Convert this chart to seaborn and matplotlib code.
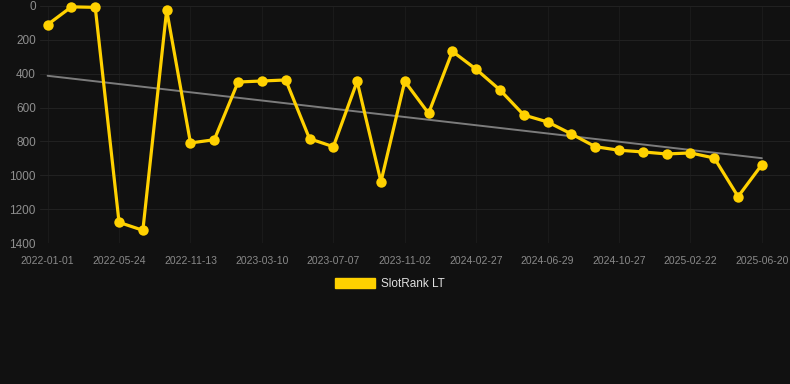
import numpy as np
import pandas as pd
import seaborn as sns
import matplotlib
matplotlib.use("Agg")
import matplotlib.pyplot as plt
from matplotlib.patches import Patch

# ---- data ----
tick_labels = ["2022-01-01", "2022-05-24", "2022-11-13", "2023-03-10", "2023-07-07",
               "2023-11-02", "2024-02-27", "2024-06-29", "2024-10-27", "2025-02-22",
               "2025-06-20"]
rank_values = [110, 5, 8, 1278, 1325, 24, 809, 790, 449, 443,
               437, 784, 831, 445, 1038, 445, 634, 268, 374, 496,
               644, 685, 756, 831, 852, 862, 874, 868, 898, 1126, 937]
series_name = "SlotRank LT"

point_index = list(range(len(rank_values)))
df = pd.DataFrame({"idx": point_index, "rank": rank_values})

BG = "#111111"
YELLOW = "#FFD100"

sns.set_theme(style="dark")
plt.rcParams["font.family"] = ["Liberation Sans", "DejaVu Sans"]

fig = plt.figure(figsize=(7.9, 3.84), dpi=100, facecolor=BG)
ax = fig.add_axes([40 / 790, 1 - 243 / 384, 750 / 790, 237 / 384])
ax.set_facecolor(BG)

# trend line (linear fit)
sns.regplot(data=df, x="idx", y="rank", scatter=False, ci=None, ax=ax,
            line_kws=dict(color="#7c7c7c", lw=1.4, zorder=2))

sns.lineplot(data=df, x="idx", y="rank", ax=ax, color=YELLOW, lw=2.3,
             marker="o", markersize=7.5, markeredgewidth=0, zorder=3)
for ln in ax.lines:
    ln.set_clip_on(False)

ax.set_xlim(-0.32, 31.18)
ax.set_ylim(1400, 0)
ax.set_yticks([0, 200, 400, 600, 800, 1000, 1200, 1400])
ax.set_xticks(point_index[::3])
ax.set_xticklabels(tick_labels)
ax.set_xlabel("")
ax.set_ylabel("")

ax.yaxis.grid(True, color="#212121", lw=0.8)
ax.xaxis.grid(True, color="#1a1a1a", lw=0.8)
ax.set_axisbelow(True)
for s in ax.spines.values():
    s.set_visible(False)

ax.tick_params(axis="y", length=0, pad=3, labelsize=8.5, labelcolor="#8f8f8f")
ax.tick_params(axis="x", length=0, pad=9, labelsize=7.5, labelcolor="#8a8a8a")

handle = Patch(facecolor=YELLOW, edgecolor=YELLOW)
fig.legend([handle], [series_name], loc="center", bbox_to_anchor=(390 / 790, 1 - 284 / 384),
           frameon=False, labelcolor="#e0e0e0", handlelength=3.4,
           handleheight=1.0, handletextpad=0.5,
           prop={"family": ["Liberation Sans", "DejaVu Sans"], "size": 8.5})

fig.savefig("out.png", dpi=100, facecolor=BG)
